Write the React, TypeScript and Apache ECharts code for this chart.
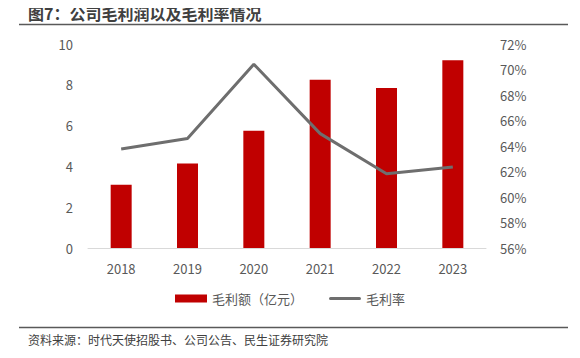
import React, { useEffect, useRef } from "react";
import * as echarts from "echarts";

const categories = ["2018", "2019", "2020", "2021", "2022", "2023"];
const grossProfit = [3.1, 4.14, 5.75, 8.25, 7.84, 9.2];
const grossMargin = [63.76, 64.58, 70.41, 64.97, 61.83, 62.35];

const FONT = "'Noto Sans CJK SC', 'Noto Sans', sans-serif";
const LINE_ICON =
  "path://M0,0 L0.01,0 L0.01,0.01 Z M1.5,2.5 L30.5,2.5 A1.5,1.5 0 0 1 30.5,5.5 L1.5,5.5 A1.5,1.5 0 0 1 1.5,2.5 Z M32,8 L31.99,8 L31.99,7.99 Z";

export default function App() {
  const ref = useRef<HTMLDivElement>(null);
  useEffect(() => {
    if (!ref.current) return;
    const chart = echarts.init(ref.current, null, { renderer: "svg" });
    chart.setOption({
      animation: false,
      backgroundColor: "#ffffff",
      textStyle: { fontFamily: FONT },
      graphic: [
        {
          type: "text",
          left: 28,
          top: 5,
          style: {
            text: "图7：公司毛利润以及毛利率情况",
            fontSize: 16,
            fontWeight: "bold",
            fill: "#404040",
            fontFamily: FONT,
          },
        },
        {
          type: "line",
          shape: { x1: 19, y1: 24.5, x2: 568, y2: 24.5 },
          style: { stroke: "#595959", lineWidth: 1.5 },
        },
        {
          type: "line",
          shape: { x1: 19, y1: 327.5, x2: 568, y2: 327.5 },
          style: { stroke: "#595959", lineWidth: 1.5 },
        },
        {
          type: "text",
          left: 28,
          top: 333,
          style: {
            text: "资料来源：时代天使招股书、公司公告、民生证券研究院",
            fontSize: 12,
            fill: "#404040",
            fontFamily: FONT,
          },
        },
      ],
      grid: { left: 88, right: 94, top: 44, bottom: 110 },
      legend: {
        bottom: 48,
        left: "center",
        itemGap: 26,
        itemWidth: 32,
        itemHeight: 8,
        textStyle: { fontSize: 13, color: "#595959", fontFamily: FONT },
        data: [
          { name: "毛利额（亿元）", icon: "rect" },
          { name: "毛利率", icon: LINE_ICON },
        ],
      },
      xAxis: {
        type: "category",
        data: categories,
        axisLine: { lineStyle: { color: "#d9d9d9" } },
        axisTick: { show: false },
        axisLabel: { color: "#595959", fontSize: 13, margin: 14 },
      },
      yAxis: [
        {
          type: "value",
          min: 0,
          max: 10,
          interval: 2,
          splitLine: { show: false },
          axisLine: { show: false },
          axisTick: { show: false },
          axisLabel: { color: "#595959", fontSize: 13, margin: 15 },
        },
        {
          type: "value",
          min: 56,
          max: 72,
          interval: 2,
          splitLine: { show: false },
          axisLine: { show: false },
          axisTick: { show: false },
          axisLabel: {
            color: "#595959",
            fontSize: 13,
            margin: 14,
            formatter: (v: number) => v + "%",
          },
        },
      ],
      series: [
        {
          name: "毛利额（亿元）",
          type: "bar",
          data: grossProfit,
          barWidth: 21,
          itemStyle: { color: "#C00000" },
        },
        {
          name: "毛利率",
          type: "line",
          yAxisIndex: 1,
          data: grossMargin,
          symbol: "none",
          lineStyle: { color: "#6E6E6E", width: 3 },
          itemStyle: { color: "#6E6E6E" },
        },
      ],
    });
    return () => chart.dispose();
  }, []);
  return <div ref={ref} style={{ width: 580, height: 358, margin: -8 }} />;
}
